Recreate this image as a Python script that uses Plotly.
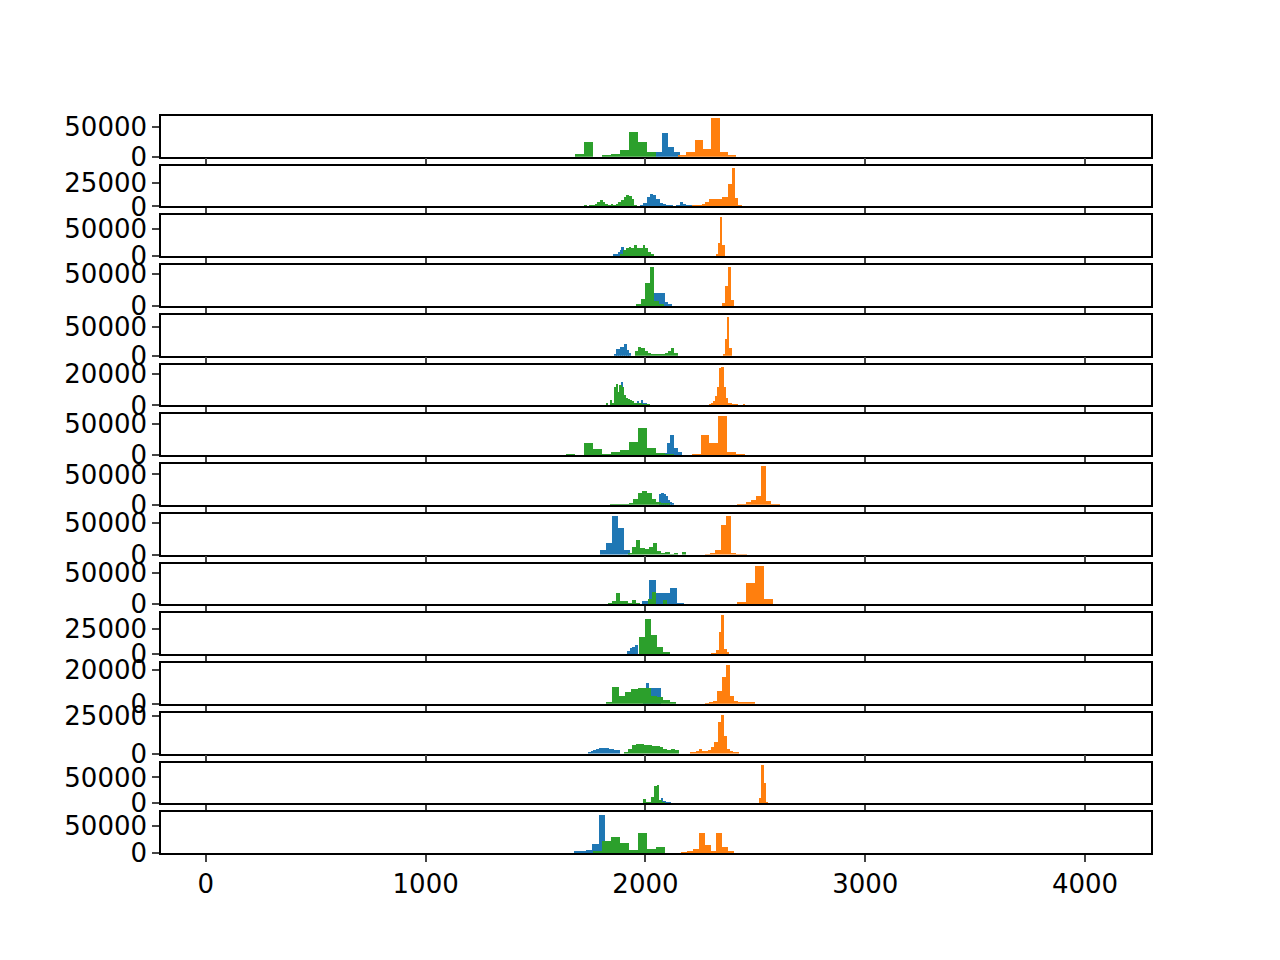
import plotly.graph_objects as go
from plotly.subplots import make_subplots

# Histogram data, one entry per panel: (first bin edge, bin width, counts)
BLUE = [
    (2047, 27, [8000, 40000, 16000, 8000]),
    (1975, 15, [1000, 4000, 10000, 14000, 13000, 8000, 4500, 3000, 2000, 1000, 500, 2000, 5000, 3500, 2000, 1000]),
    (1853, 8, [2000, 2000, 4000, 6000, 10000, 16000]),
    (2039, 16, [19000, 19000, 19000, 6000, 2000]),
    (1861, 9, [3000, 12000, 12000, 16000, 16000, 20000, 10000, 4000]),
    (1881, 9, [0, 15000, 0, 0, 0, 0, 0, 0, 0, 3000, 1500, 3500, 2000, 1500, 1000]),
    (2079, 17, [2000, 18000, 31000, 10000, 4000]),
    (2066, 9, [17000, 20000, 17000, 14000, 8000, 4000, 2000]),
    (1793, 27, [7000, 18000, 62000, 42000, 8000]),
    (1984, 32, [6500, 39000, 19000, 19000, 26000, 3000]),
    (1916, 12, [3000, 6000, 7000, 9000]),
    (1987, 14, [9500, 12000, 9500, 9500, 9500, 9500]),
    (1739, 12, [1000, 2000, 2500, 3000, 3500, 4000, 3500, 3500, 3000, 3000, 2500, 2500]),
    (2070, 12, [11000, 5000, 3000, 3000, 1000]),
    (1675, 28, [2500, 2500, 6000, 16000, 71000, 10000]),
]
ORANGE = [
    (2148, 38, [1500, 8000, 28000, 13000, 65000, 8000, 3000]),
    (2212, 15, [2000, 2000, 1500, 3000, 5000, 8500, 8500, 8500, 8500, 10000, 10000, 25000, 42000, 9000, 1000, 500]),
    (2320, 10, [3000, 24000, 71000, 20000]),
    (2347, 14, [5000, 31000, 60000, 9000]),
    (2352, 10, [3500, 30000, 68000, 14000]),
    (2293, 9, [500, 1500, 3000, 6000, 12000, 24000, 25000, 12000, 5000, 2000, 1500, 800, 500, 500, 300, 0, 0, 500]),
    (2211, 40, [1000, 31000, 18000, 62000, 5000, 1000]),
    (2415, 22, [500, 1000, 5000, 8000, 14000, 64000, 5500, 1000, 1000]),
    (2270, 24, [1000, 2000, 8000, 48000, 62000, 2000, 500, 500]),
    (2374, 41, [1000, 4000, 34000, 62000, 9000, 1000]),
    (2297, 12, [500, 500, 4000, 22000, 39000, 5000, 1000]),
    (2270, 19, [200, 1000, 1500, 7500, 16000, 23000, 4500, 1500, 1000, 1000, 500, 500]),
    (2202, 14, [500, 1000, 2000, 3000, 2000, 1500, 2500, 4500, 7500, 21000, 26000, 12000, 3000, 1500, 500, 500]),
    (2512, 9, [1000, 11000, 75000, 41000, 2000]),
    (2161, 27, [1000, 3000, 6500, 37000, 14000, 2500, 37000, 10000, 2500]),
]
GREEN = [
    (1680, 41, [5000, 24500, 0, 2000, 4000, 11000, 41000, 25000, 8000]),
    (1721, 12, [1000, 500, 1500, 2000, 3500, 5000, 7500, 5000, 3000, 2000, 2500, 1500, 3000, 5000, 7000, 10000, 13000, 12000, 8000, 2000]),
    (1886, 12.6, [3000, 10000, 15000, 17000, 15000, 20000, 15000, 15000, 20000, 14000, 6000, 2000]),
    (1957, 21, [3000, 11000, 35000, 60000, 8000, 3000]),
    (1952, 15, [8000, 16000, 13000, 8000, 4000, 3000, 3000, 3000, 3000, 5000, 8000, 13000, 4000]),
    (1821, 9, [1500, 0, 3500, 2000, 12000, 14000, 9000, 13000, 12000, 7000, 5000, 4000, 3500, 3000, 2000, 2000, 1500, 1500, 1000, 1000, 800, 500]),
    (1639, 41, [1000, 0, 18000, 8500, 1000, 4000, 7000, 20000, 43000, 10000, 2000, 1000]),
    (1839, 21, [1000, 1000, 1000, 1000, 3000, 9000, 19000, 22000, 19000, 9000, 5000, 3000, 2000]),
    (1920, 19, [2000, 13000, 24000, 11000, 9000, 13000, 19000, 6000, 3000, 5000, 1000, 3000, 0, 5000]),
    (1830, 18, [2000, 6000, 19000, 6000, 6000, 3000, 8000, 1500, 0, 0, 9000, 21000, 0, 0, 8000]),
    (1970, 28, [17000, 35000, 19000, 7000, 1000]),
    (1820, 29, [500, 10000, 4500, 7000, 8500, 9500, 9500, 4500, 4000, 2500, 1000]),
    (1902, 18, [1000, 3000, 5500, 6500, 6500, 6000, 5500, 5000, 5000, 4500, 3000, 2500, 3000, 2500]),
    (1979, 12, [1000, 9000, 4000, 4000, 14000, 34000, 36000, 8000, 4000, 1000]),
    (1762, 41, [2000, 21000, 29000, 18000, 4500, 37000, 6500, 10000]),
]
Y_TICK = [50000, 25000, 50000, 50000, 50000, 20000, 50000, 50000, 50000, 50000, 25000, 20000, 25000, 50000, 50000]
Y_MAX = [68000, 44000, 75000, 63000, 72000, 26000, 65000, 67000, 65000, 65000, 41000, 24000, 27000, 79000, 76000]
X_TICKS = [0, 1000, 2000, 3000, 4000]

COLORS = ["#1f77b4", "#ff7f0e", "#2ca02c"]
N = len(Y_TICK)

fig = make_subplots(rows=N, cols=1, shared_xaxes=True, vertical_spacing=0.0122)

for i in range(N):
    for series, color in zip((BLUE, ORANGE, GREEN), COLORS):
        start, w, counts = series[i]
        centers = [start + w * (k + 0.5) for k in range(len(counts))]
        fig.add_trace(go.Bar(x=centers, y=counts, width=w, marker_color=color,
                             marker_line_width=0, showlegend=False), row=i + 1, col=1)
    fig.update_yaxes(range=[0, Y_MAX[i]], tickvals=[0, Y_TICK[i]], ticktext=["0", str(Y_TICK[i])],
                     row=i + 1, col=1)

fig.update_xaxes(range=[-204, 4300], tickvals=X_TICKS, ticks="outside", ticklen=7, tickwidth=1.5,
                 showline=True, mirror=True, linecolor="black", linewidth=1.5,
                 showgrid=False, zeroline=False)
fig.update_xaxes(showticklabels=True, row=N, col=1)
fig.update_yaxes(ticks="outside", ticklen=7, tickwidth=1.5, showline=True, mirror=True,
                 linecolor="black", linewidth=1.5, showgrid=False, zeroline=False)

fig.update_layout(
    width=1280, height=960,
    barmode="overlay", bargap=0,
    plot_bgcolor="white", paper_bgcolor="white",
    font=dict(family="DejaVu Sans", size=26, color="black"),
    margin=dict(l=153, r=137, t=108, b=115, autoexpand=False),
)

fig.write_html("out.html")
